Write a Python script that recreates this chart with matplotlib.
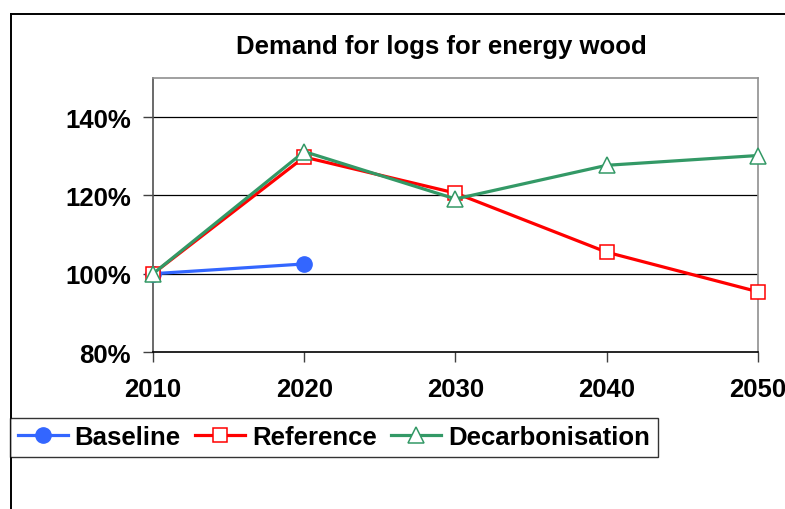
import matplotlib.pyplot as plt
from matplotlib.lines import Line2D

plt.rcParams['font.family'] = ['Liberation Sans', 'DejaVu Sans']

# data (index, 2010 = 100%)
years = [2010, 2020, 2030, 2040, 2050]
baseline_years = [2010, 2020]
baseline = [100.0, 102.5]
reference = [100.0, 129.8, 120.6, 105.5, 95.4]
decarbonisation = [100.0, 131.2, 119.1, 127.7, 130.2]
y_ticks = [80, 100, 120, 140]
y_labels = ['80%', '100%', '120%', '140%']

fig = plt.figure(figsize=(7.85, 5.1), dpi=100)
ax = fig.add_axes([0.1949, 0.3078, 0.7707, 0.5373])

# outer chart frame (cut off on the right and bottom)
fig.add_artist(Line2D([0.014, 0.014], [-0.1, 0.9706], color='black', lw=1.4,
                      transform=fig.transFigure))
fig.add_artist(Line2D([0.014, 1.1], [0.9706, 0.9706], color='black', lw=1.4,
                      transform=fig.transFigure))

ax.plot(baseline_years, baseline, color='#3366FF', lw=2.3, marker='o',
        markersize=11, markerfacecolor='#3366FF', markeredgecolor='#3366FF',
        label='Baseline', zorder=3, clip_on=False)
ax.plot(years, reference, color='#FF0000', lw=2.3, marker='s',
        markersize=10.5, markerfacecolor='white', markeredgecolor='#FF0000',
        markeredgewidth=1.1, label='Reference', zorder=4, clip_on=False)
ax.plot(years, decarbonisation, color='#339966', lw=2.3, marker='^',
        markersize=12, markerfacecolor='white', markeredgecolor='#339966',
        markeredgewidth=1.1, label='Decarbonisation', zorder=5, clip_on=False)

ax.set_xlim(2010, 2050)
ax.set_ylim(80, 150)
ax.set_xticks(years)
ax.set_xticklabels([str(y) for y in years], fontsize=18.5, fontweight='bold')
ax.set_yticks(y_ticks)
ax.set_yticklabels(y_labels, fontsize=18.5, fontweight='bold')
ax.tick_params(axis='y', length=7, width=1, color='#404040', pad=9)
ax.tick_params(axis='x', length=7, width=1, color='#404040', pad=11)

for y in y_ticks[1:]:
    ax.axhline(y, color='black', lw=0.9, zorder=1)

for side in ['top', 'right']:
    ax.spines[side].set_color('#909090')
    ax.spines[side].set_linewidth(1.2)
ax.spines['left'].set_color('#505050')
ax.spines['left'].set_linewidth(1.2)
ax.spines['bottom'].set_color('black')
ax.spines['bottom'].set_linewidth(1.2)
for sp in ax.spines.values():
    sp.set_clip_on(False)

fig.text(0.5624, 0.908, 'Demand for logs for energy wood', ha='center',
         va='center', fontsize=18.5, fontweight='bold')

leg = fig.legend(loc='lower left', bbox_to_anchor=(0.0127, 0.102), ncol=3,
                 prop={'size': 18.5, 'weight': 'bold'}, frameon=True,
                 fancybox=False, edgecolor='black', borderaxespad=0,
                 handlelength=1.95, handletextpad=0.27, columnspacing=0.55,
                 borderpad=0.3)
leg.get_frame().set_linewidth(1.0)

fig.savefig('out.png', dpi=100)
